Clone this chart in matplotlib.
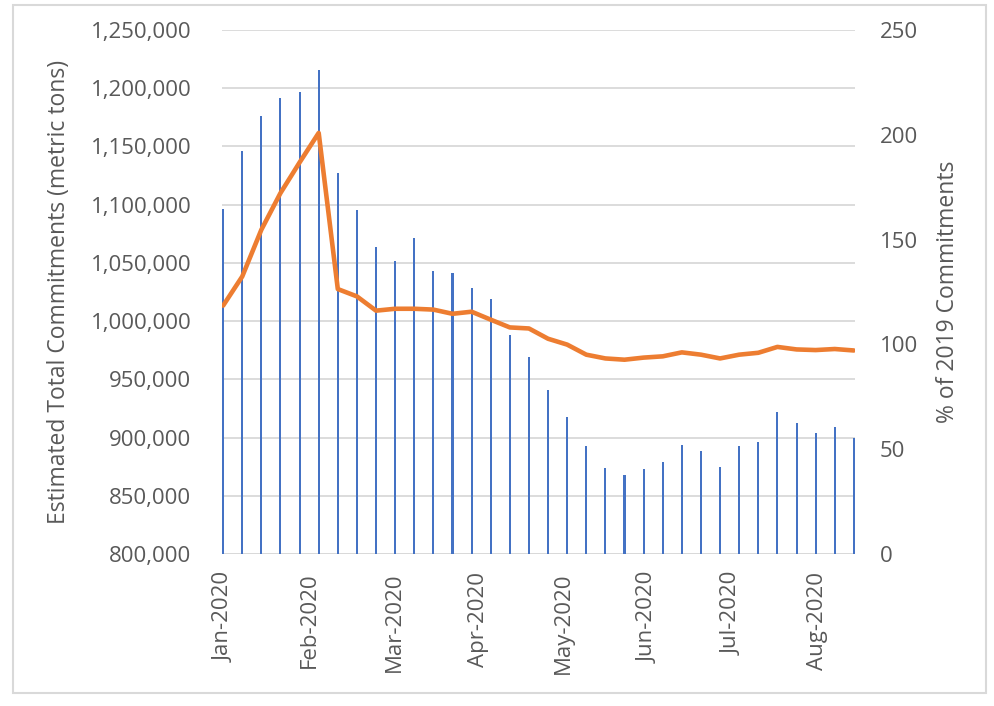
import matplotlib
matplotlib.use("Agg")
import matplotlib.pyplot as plt
import matplotlib.ticker as mticker
import matplotlib.transforms as mtransforms
import pandas as pd
from matplotlib.patches import Rectangle

# weekly reporting dates (Thursdays)
week_start = "2020-01-02"
n_weeks = 34
month_labels = ["Jan-2020", "Feb-2020", "Mar-2020", "Apr-2020",
                "May-2020", "Jun-2020", "Jul-2020", "Aug-2020"]

commitments = [1096000, 1145700, 1175800, 1191200, 1196400, 1215300,
               1126800, 1095000, 1064000, 1051200, 1071800, 1043400,
               1041700, 1028800, 1019400, 988500, 969600, 941200,
               918000, 893000, 874000, 868000, 873200, 879200,
               893800, 888700, 874900, 893000, 896400, 922300,
               912800, 904200, 909400, 899900]

pct_2019 = [118.5, 132.4, 154.7, 172.2, 186.8, 200.9, 126.4, 122.9,
            116.1, 117.0, 117.0, 116.6, 114.6, 115.6, 111.8, 108.1,
            107.6, 102.7, 99.9, 95.1, 93.3, 92.7, 93.7, 94.3,
            96.2, 95.1, 93.3, 95.1, 96.0, 98.8, 97.6, 97.3,
            97.8, 97.1]

dates = pd.date_range(week_start, periods=n_weeks, freq="7D")
# labels sit every 31 days on the date axis
tick_dates = pd.date_range(dates[0] + pd.Timedelta(hours=14),
                           periods=len(month_labels), freq="31D")

text_color = "#595959"
grid_color = "#D9D9D9"
plt.rcParams["font.family"] = ["Open Sans", "DejaVu Sans"]

fig = plt.figure(figsize=(9.95, 7.06), dpi=100)
ax = fig.add_axes([0.2231, 0.2153, 0.6362, 0.7422])
ax2 = ax.twinx()

# chart area border
fig.patches.append(Rectangle((13 / 995, 1 - 693 / 706), 973 / 995, 688 / 706,
                             transform=fig.transFigure, fill=False,
                             edgecolor=grid_color, linewidth=1.5))

ax.bar(dates, commitments, width=0.75, color="#4472C4", zorder=2)
ax2.plot(dates, pct_2019, color="#ED7D31", linewidth=3.3,
         solid_joinstyle="round", solid_capstyle="round")

ax.set_ylim(800000, 1250000)
ax.yaxis.set_major_locator(mticker.MultipleLocator(50000))
ax.yaxis.set_major_formatter(mticker.FuncFormatter(lambda v, p: f"{int(v):,}"))
ax2.set_ylim(0, 250)
ax2.yaxis.set_major_locator(mticker.MultipleLocator(50))

ax.set_xticks(tick_dates)
ax.set_xticklabels(month_labels, rotation=90)
ax.set_xlim(dates[0] - pd.Timedelta(hours=10), dates[-1] + pd.Timedelta(hours=10))
shift = mtransforms.ScaledTranslation(5 / 100, 0, fig.dpi_scale_trans)
for lbl in ax.get_xticklabels():
    lbl.set_transform(lbl.get_transform() + shift)

ax.grid(axis="y", color=grid_color, linewidth=1.3, zorder=0)
ax.set_axisbelow(True)

for a in (ax, ax2):
    for s in ("top", "left", "right", "bottom"):
        a.spines[s].set_visible(False)
ax.axhline(800000, color=grid_color, linewidth=2.0, zorder=1)

ax.tick_params(axis="y", length=0, pad=22, labelsize=16, labelcolor=text_color)
ax.tick_params(axis="x", length=0, pad=13, labelsize=16, labelcolor=text_color)
ax2.tick_params(axis="y", length=0, pad=18, labelsize=16, labelcolor=text_color)

ax.set_ylabel("Estimated Total Commitments (metric tons)", fontsize=16.5, color=text_color)
ax.yaxis.set_label_coords(-0.238, 0.5)
ax2.set_ylabel("% of 2019 Commitments", fontsize=16.5, color=text_color)
ax2.yaxis.set_label_coords(1.128, 0.5)

fig.savefig("out.png", dpi=100)
